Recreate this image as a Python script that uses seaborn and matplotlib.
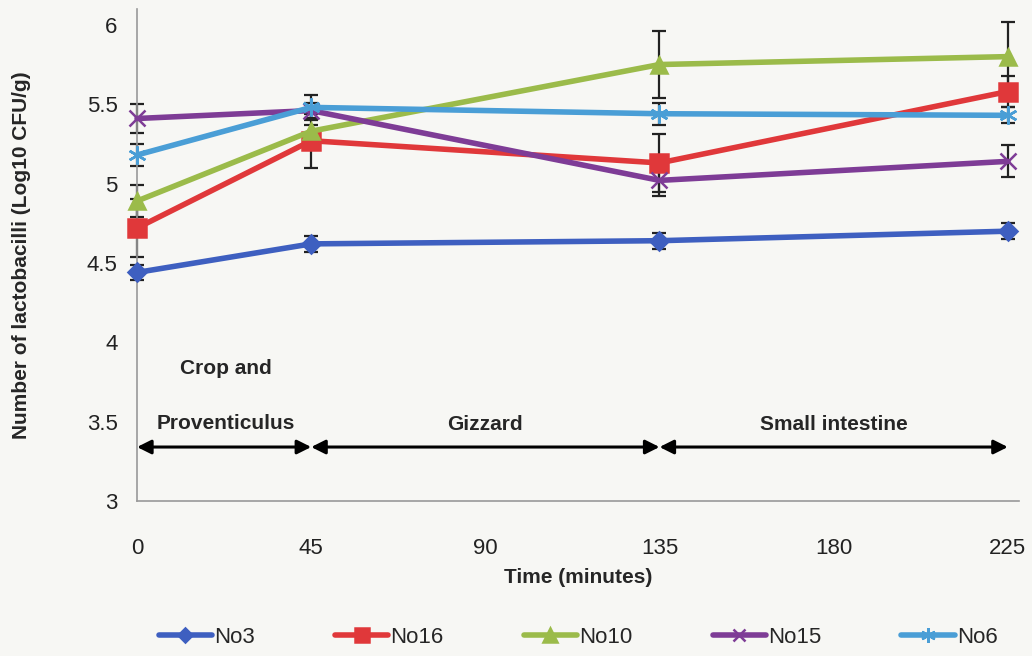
import matplotlib
matplotlib.use("Agg")
import matplotlib.pyplot as plt
import seaborn as sns
import pandas as pd
from matplotlib import font_manager

# ---- data ----
times = [0, 45, 135, 225]
series_names = ["No3", "No16", "No10", "No15", "No6"]
no3 = [4.44, 4.62, 4.64, 4.70]
no16 = [4.72, 5.27, 5.13, 5.58]
no10 = [4.89, 5.33, 5.75, 5.80]
no15 = [5.41, 5.46, 5.02, 5.14]
no6 = [5.18, 5.48, 5.44, 5.43]
no3_err = [0.05, 0.05, 0.05, 0.05]
no16_err = [0.18, 0.17, 0.18, 0.10]
no10_err = [0.10, 0.04, 0.21, 0.22]
no15_err = [0.09, 0.05, 0.10, 0.10]
no6_err = [0.07, 0.08, 0.07, 0.05]
region_bounds = [0, 45, 135, 225]
region_labels = ["Crop and\n\nProventiculus", "Gizzard", "Small intestine"]
x_ticks = [0, 45, 90, 135, 180, 225]
y_ticks = [3, 3.5, 4, 4.5, 5, 5.5, 6]

values = [no3, no16, no10, no15, no6]
errors = [no3_err, no16_err, no10_err, no15_err, no6_err]
colors = ["#3E5FC0", "#E0383A", "#9BBB4A", "#7E3C96", "#4A9ED6"]
markers = ["D", "s", "^", "x", (6, 2, 0)]
msizes = [9, 13, 12, 11, 13]

sns.set_theme(style="white")
avail = {f.name for f in font_manager.fontManager.ttflist}
fam = "Liberation Sans Narrow" if "Liberation Sans Narrow" in avail else "Liberation Sans"
plt.rcParams["font.family"] = [fam, "DejaVu Sans"]

fig = plt.figure(figsize=(10.32, 6.56), dpi=100)
fig.patch.set_facecolor("#f7f7f4")
ax = fig.add_axes([0.1328, 0.2363, 0.855, 0.75])
ax.set_facecolor("#f7f7f4")

rows = []
for name, vals in zip(series_names, values):
    for t, v in zip(times, vals):
        rows.append({"Time": t, "Value": v, "Series": name})
df = pd.DataFrame(rows)

for name, vals, errs, c, m, ms in zip(series_names, values, errors, colors, markers, msizes):
    eb = ax.errorbar(times, vals, yerr=errs, fmt="none", ecolor="#222222",
                     elinewidth=1.6, capsize=5, capthick=1.6, zorder=2)
    for art in eb.lines[1] + eb.lines[2]:
        art.set_clip_on(False)
    sub = df[df["Series"] == name]
    sns.lineplot(data=sub, x="Time", y="Value", ax=ax, color=c, marker=m,
                 markersize=ms, markeredgecolor=c, markeredgewidth=1.8,
                 linewidth=4, label=name, zorder=3, clip_on=False)

# region arrows
arrow_y = 3.34
for a, b in zip(region_bounds[:-1], region_bounds[1:]):
    ax.annotate("", xy=(b, arrow_y), xytext=(a, arrow_y),
                arrowprops=dict(arrowstyle="<|-|>,head_length=0.7,head_width=0.35",
                                color="black", lw=2.2, shrinkA=0, shrinkB=0))
ax.text(23, 3.66, region_labels[0], ha="center", va="center", fontsize=15,
        fontweight="bold", linespacing=1.55)
ax.text(90, 3.48, region_labels[1], ha="center", va="center", fontsize=15, fontweight="bold")
ax.text(180, 3.48, region_labels[2], ha="center", va="center", fontsize=15, fontweight="bold")

ax.set_xlim(0, 228)
ax.set_ylim(3, 6.1)
ax.set_xticks(x_ticks)
ax.set_yticks(y_ticks)
ax.set_yticklabels(["3", "3.5", "4", "4.5", "5", "5.5", "6"])
ax.tick_params(axis="both", labelsize=16, colors="#222222")
ax.tick_params(axis="x", direction="inout", length=10, width=1, color="#999999", pad=22)
ax.tick_params(axis="y", direction="out", length=6, width=1, color="#999999", pad=8)
ax.set_xlabel("Time (minutes)", fontsize=15, fontweight="bold", labelpad=6)
ax.set_ylabel("Number of lactobacilli (Log10 CFU/g)", fontsize=15, fontweight="bold", labelpad=40)
for s in ["top", "right"]:
    ax.spines[s].set_visible(False)
for s in ["left", "bottom"]:
    ax.spines[s].set_color("#999999")
    ax.spines[s].set_linewidth(1.2)

ax.legend(loc="upper center", bbox_to_anchor=(0.5, -0.215), ncol=5, frameon=False,
          fontsize=16, handlelength=2.4, columnspacing=3.6, handletextpad=0.1, markerscale=0.8)

fig.savefig("out.png", dpi=100, facecolor=fig.get_facecolor())
